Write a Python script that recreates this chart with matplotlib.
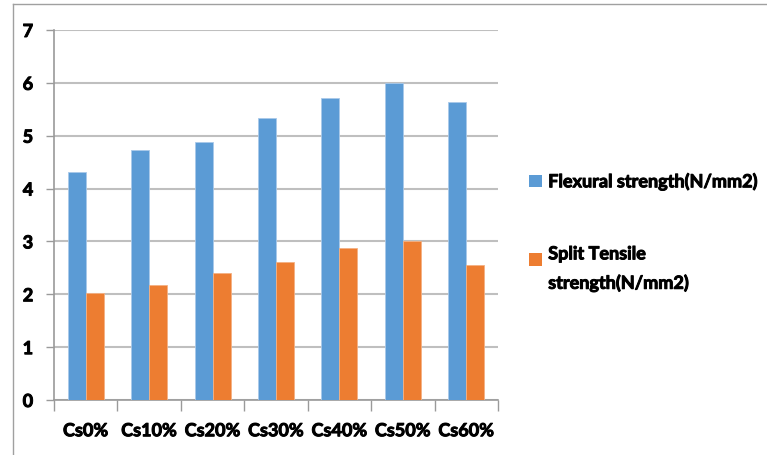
import numpy as np
import matplotlib.pyplot as plt
import matplotlib.patheffects as pe
from matplotlib.lines import Line2D
from matplotlib.patches import Rectangle
from matplotlib.legend_handler import HandlerPatch

categories = ['Cs0%', 'Cs10%', 'Cs20%', 'Cs30%', 'Cs40%', 'Cs50%', 'Cs60%']
flexural = [4.32, 4.73, 4.89, 5.33, 5.71, 6.00, 5.63]
split_tensile = [2.02, 2.18, 2.40, 2.62, 2.87, 3.00, 2.55]
series_names = ['Flexural strength(N/mm2)', 'Split Tensile\nstrength(N/mm2)']

plt.rcParams['font.family'] = ['Lato', 'DejaVu Sans']
plt.rcParams['font.weight'] = 'bold'
bold = [pe.withStroke(linewidth=0.7, foreground='black')]

W, H = 767, 456
fig = plt.figure(figsize=(W/100, H/100), dpi=100)
# axes box in pixels: left 54, right 498, top 31, bottom 401
ax = fig.add_axes([54/W, 1-401/H, (498-54)/W, (401-31)/H])

x = np.arange(len(categories))
bw = 0.284
b1 = ax.bar(x - bw/2, flexural, bw, color='#5b9bd5', edgecolor='#a9c9ea', linewidth=0.6, zorder=3)
b2 = ax.bar(x + bw/2, split_tensile, bw, color='#ed7d31', edgecolor='#f4b183', linewidth=0.6, zorder=3)

ax.set_xlim(-0.5, len(categories) - 0.5)
ax.set_ylim(0, 7)
ax.set_yticks(range(8))
ax.yaxis.grid(True, color='#bfbfbf', linewidth=1.5, zorder=0)
ax.set_axisbelow(True)

ax.set_xticks(np.arange(-0.5, len(categories)), minor=False)
ax.set_xticklabels([])
ax.set_xticks(x, minor=True)
ax.set_xticklabels(categories, minor=True)
ax.tick_params(axis='x', which='major', length=8, color='#9a9a9a', width=1)
ax.tick_params(axis='x', which='minor', length=0, pad=16, labelsize=13)
ax.tick_params(axis='y', length=6, color='#9a9a9a', width=1, labelsize=13, pad=9)

for s in ['top', 'right']:
    ax.spines[s].set_visible(False)
for s in ['left', 'bottom']:
    ax.spines[s].set_color('#9a9a9a')
    ax.spines[s].set_linewidth(1.2)

for t in ax.get_xticklabels(minor=True) + ax.get_yticklabels():
    t.set_path_effects(bold)


# legend marker sits beside the first line of a wrapped label
def top_patch(legend, orig_handle, xdescent, ydescent, width, height, fontsize):
    return Rectangle((-xdescent, -ydescent + 0.55 * fontsize), width, height)


h1, h2 = b1.patches[0], b2.patches[0]
leg = fig.legend([h1, h2], series_names, loc='center left',
                 bbox_to_anchor=(513/W, 1-233/H), frameon=False,
                 handlelength=0.7, handleheight=0.7, handletextpad=0.35,
                 labelspacing=3.05, fontsize=13,
                 handler_map={h2: HandlerPatch(patch_func=top_patch)})
for t in leg.get_texts():
    t.set_linespacing(1.75)
    t.set_path_effects(bold)
for h in leg.legend_handles:
    h.set_edgecolor('none')

# outer frame lines (left and top)
fig.add_artist(Line2D([13/W, 13/W], [0, 1-5/H], color='#a0a0a0', linewidth=1))
fig.add_artist(Line2D([13/W, 1], [1-5/H, 1-5/H], color='#a0a0a0', linewidth=1))

fig.savefig('out.png', dpi=100)
